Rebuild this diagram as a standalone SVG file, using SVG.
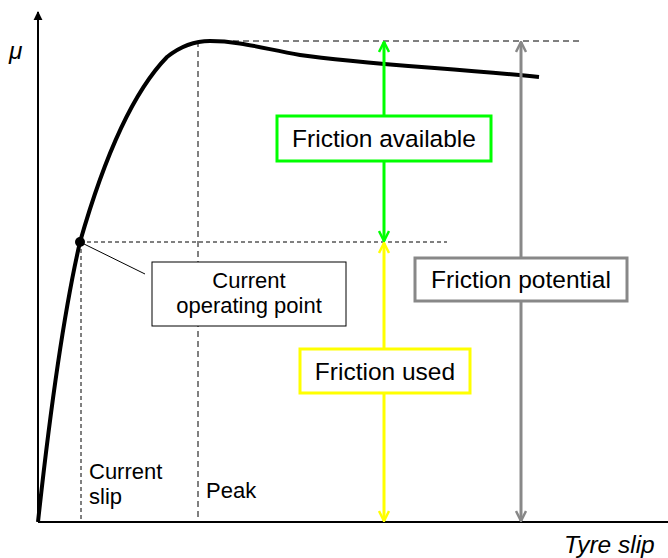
<svg xmlns="http://www.w3.org/2000/svg" width="668" height="558" viewBox="0 0 668 558">
  <style>
    .lbl { font-family: "Liberation Sans", Arial, sans-serif; fill: #000; }
    .big { font-size: 24.5px; }
    .small { font-size: 22px; }
    .ital { font-style: italic; }
    .guide { stroke: #000; stroke-width: 1; fill: none; }
    .box { fill: #fff; stroke-width: 3; }
  </style>
  <defs>
    <marker id="axisHead" viewBox="0 0 10 10" refX="9" refY="5" markerWidth="9" markerHeight="10" markerUnits="userSpaceOnUse" orient="auto">
      <path d="M0,0 L10,5 L0,10 z" fill="#000"/>
    </marker>
    <marker id="openGreen" viewBox="0 0 12 12" refX="11" refY="6" markerWidth="12" markerHeight="12" markerUnits="userSpaceOnUse" orient="auto">
      <path d="M1,1 L11,6 L1,11" fill="none" stroke="#00ff00" stroke-width="2.5"/>
    </marker>
    <marker id="openYellow" viewBox="0 0 12 12" refX="11" refY="6" markerWidth="12" markerHeight="12" markerUnits="userSpaceOnUse" orient="auto">
      <path d="M1,1 L11,6 L1,11" fill="none" stroke="#ffff00" stroke-width="2.5"/>
    </marker>
    <marker id="openGrey" viewBox="0 0 12 12" refX="11" refY="6" markerWidth="12" markerHeight="12" markerUnits="userSpaceOnUse" orient="auto">
      <path d="M1,1 L11,6 L1,11" fill="none" stroke="#888888" stroke-width="2.5"/>
    </marker>
  </defs>

  <rect width="668" height="558" fill="#fff"/>

  <!-- axes -->
  <g id="axes">
    <line x1="38" y1="522" x2="38" y2="12" stroke="#000" stroke-width="2" marker-end="url(#axisHead)"/>
    <line x1="38" y1="522" x2="672" y2="522" stroke="#000" stroke-width="2"/>
    <text class="lbl big ital" x="9" y="59">μ</text>
    <text class="lbl big ital" x="564" y="553">Tyre slip</text>
  </g>

  <!-- guide lines -->
  <g id="guides">
    <line class="guide" x1="213" y1="41" x2="580" y2="41" stroke-dasharray="6,4"/>
    <line class="guide" x1="198" y1="41" x2="198" y2="522" stroke-dasharray="6,4"/>
    <line class="guide" x1="80" y1="242" x2="447" y2="242" stroke-dasharray="4,3"/>
    <line class="guide" x1="81" y1="242" x2="81" y2="522" stroke-dasharray="4,3"/>
  </g>

  <!-- mu-slip curve -->
  <g id="curve">
    <path d="M38,522 C48,430 62,320 80,242 C102,165 130,95 167,57 C182,45 195,41 210,41 C240,41 265,49 300,55 C360,64 450,68 539,77" fill="none" stroke="#000" stroke-width="4"/>
    <circle cx="80" cy="242" r="5" fill="#000"/>
  </g>

  <!-- friction arrows and leader -->
  <g id="connectors">
    <line x1="384" y1="116" x2="384" y2="42" stroke="#00ff00" stroke-width="3" marker-end="url(#openGreen)"/>
    <line x1="384" y1="160" x2="384" y2="241" stroke="#00ff00" stroke-width="3" marker-end="url(#openGreen)"/>
    <line x1="384" y1="350" x2="384" y2="243" stroke="#ffff00" stroke-width="3" marker-end="url(#openYellow)"/>
    <line x1="384" y1="392" x2="384" y2="521" stroke="#ffff00" stroke-width="3" marker-end="url(#openYellow)"/>
    <line x1="521" y1="258" x2="521" y2="42" stroke="#888888" stroke-width="3" marker-end="url(#openGrey)"/>
    <line x1="521" y1="301" x2="521" y2="521" stroke="#888888" stroke-width="3" marker-end="url(#openGrey)"/>
    <line x1="80" y1="242" x2="145" y2="274" stroke="#000" stroke-width="1"/>
  </g>

  <!-- labels -->
  <g id="friction-available">
    <rect class="box" x="277" y="116" width="214" height="45" stroke="#00ff00"/>
    <text class="lbl big" x="384" y="147" text-anchor="middle">Friction available</text>
  </g>
  <g id="friction-used">
    <rect class="box" x="300" y="349" width="170" height="44" stroke="#ffff00"/>
    <text class="lbl big" x="385" y="380" text-anchor="middle">Friction used</text>
  </g>
  <g id="friction-potential">
    <rect class="box" x="415" y="258" width="212" height="43" stroke="#888888"/>
    <text class="lbl big" x="521" y="288" text-anchor="middle">Friction potential</text>
  </g>
  <g id="operating-point">
    <rect x="152" y="262" width="194" height="64" fill="#fff" stroke="#000" stroke-width="1"/>
    <text class="lbl small" x="249" y="288" text-anchor="middle">Current</text>
    <text class="lbl small" x="249" y="313" text-anchor="middle">operating point</text>
  </g>
  <g id="current-slip">
    <text class="lbl small" x="89" y="479">Current</text>
    <text class="lbl small" x="89" y="504">slip</text>
  </g>
  <g id="peak">
    <text class="lbl small" x="206" y="498">Peak</text>
  </g>
</svg>
